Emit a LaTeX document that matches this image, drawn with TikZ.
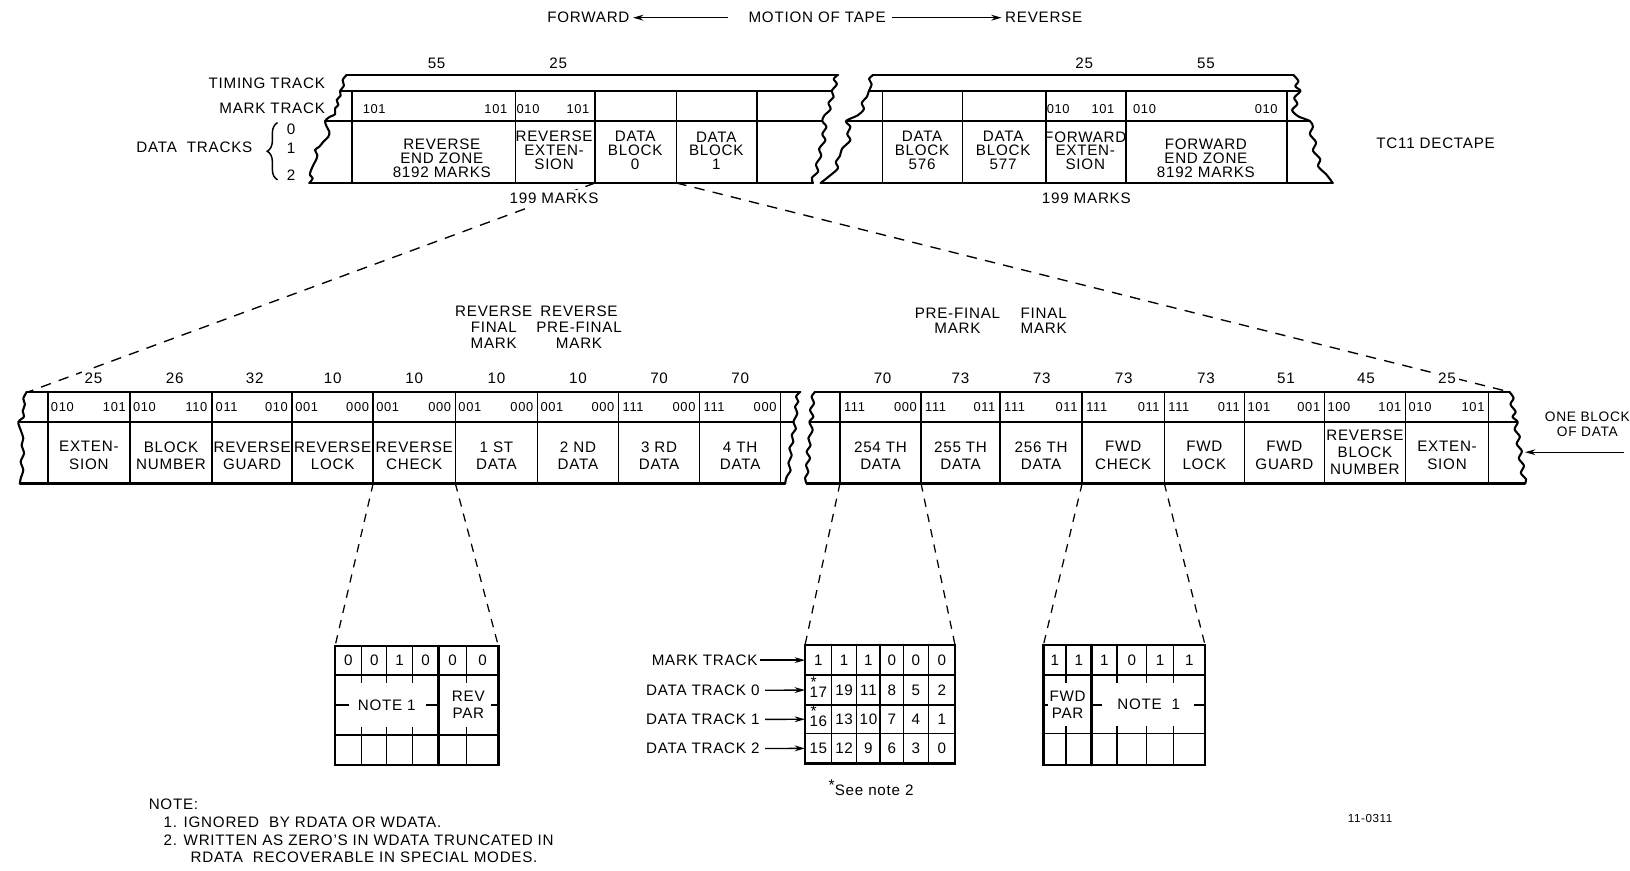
\documentclass[tikz,border=0pt]{standalone}
\usepackage{fontspec}
\setmainfont{Liberation Sans}[LetterSpace=5.0]
\usetikzlibrary{arrows.meta,decorations.pathreplacing,calc}
\begin{document}
\begin{tikzpicture}[x=0.5pt,y=-0.5pt,
  lbl/.style={font=\fontsize{7.3}{8.2}\selectfont, align=center, inner sep=0pt},
  toplbl/.style={font=\fontsize{7.3}{6.7}\selectfont, align=center, inner sep=0pt},
  mk/.style={font=\fontsize{6.2}{7}\selectfont, inner sep=0pt},
  tiny/.style={font=\fontsize{5.6}{6}\selectfont, inner sep=0pt},
  bord/.style={line width=1.25pt, line cap=round},
  thin/.style={line width=0.7pt},
  tear/.style={line width=1pt, line join=round, line cap=round},
  dshl/.style={line width=0.65pt, dash pattern=on 5pt off 4pt},
  dshs/.style={line width=0.6pt, dash pattern=on 4pt off 3.5pt},
  arr/.style={line width=0.65pt, -{Stealth[length=5pt,width=2.8pt]}},
  wbg/.style={fill=white, inner sep=1.5pt},
]
\useasboundingbox (0,0) rectangle (1568,837);

% ---------------- title
\node[lbl] (fwd) at (566,17) {FORWARD};
\node[lbl] (mot) at (786,17) {MOTION OF TAPE};
\node[lbl] (rev) at (1004,17) {REVERSE};
\draw[arr] ($(mot.west)+(-19,0)$) -- ($(fwd.east)+(3,0)$);
\draw[arr] ($(mot.east)+(6,0)$) -- ($(rev.west)+(-3,0)$);

% ---------------- expansion dashed lines
\coordinate (tA) at (572.5,176);
\coordinate (tB) at (650.6,176);
\coordinate (mA) at (27,377);
\coordinate (mB) at (1452,377);
\draw[dshl] (tA) -- (mA);
\draw[dshl] (tB) -- (mB);

% ---------------- top left tape
\draw[tear] plot[smooth, tension=0.5] coordinates {(333.5,72) (329.6,77) (330.9,82.4) (327.1,87.5) (327.7,92) (323.9,96.2) (325.5,101) (322.3,104.2) (322.3,110) (317.5,112.2) (312.7,116.4) (314.3,121.9) (316.8,126.7) (315.9,131.5) (311.1,136.3) (307.2,141.1) (303,144.3) (305.3,149.1) (304,153.9) (301.4,158.7) (298.9,164.5) (298.2,168.4) (300.8,171.6) (297.6,176)};
\draw[tear] plot[smooth, tension=0.5] coordinates {(806,72) (802,76) (805,81) (800,87.5) (802,93) (797,99) (799,105) (793,111) (791,116.4) (795,122) (791,129) (794,135) (788,143) (790,150) (785,158) (787,165) (781,171) (782,176)};
\draw[bord] (333.5,72) -- (806,72);
\draw[thin] (327.1,87.5) -- (800,87.5);
\draw[thin] (312.7,116.4) -- (791,116.4);
\draw[bord] (297.6,176) -- (782,176);
\foreach \x in {338.4,496,572.5,650.6,728.3} \draw[thin] (\x,87.5) -- (\x,176);

\node[lbl, anchor=east] (tim) at (313,80) {TIMING TRACK};
\node[lbl, anchor=east] (mrk) at (313,104) {MARK TRACK};
\node[lbl] (dtr) at (187,142) {DATA\ \ TRACKS};
\draw[thin, decorate, decoration={brace, amplitude=5pt}] (267,173) -- (267,118);
\node[lbl] (d0) at (280,124) {0};
\node[lbl] (d1) at (280,143) {1};
\node[lbl] (d2) at (280,169) {2};
\node[lbl] (n55a) at (420,61) {55};
\node[lbl] (n25a) at (537,61) {25};
\node[mk] (tm1) at (360,105) {101};
\node[mk] (tm2) at (477,105) {101};
\node[mk] (tm3) at (508,105) {010};
\node[mk] (tm4) at (556,105) {101};
\node[toplbl] (tl1) at (425,152) {REVERSE\\END ZONE\\8192 MARKS};
\node[toplbl] (tl2) at (533,144.5) {REVERSE\\EXTEN-\\SION};
\node[toplbl] (tl3) at (611,145) {DATA\\BLOCK\\0};
\node[toplbl] (tl4) at (689,145) {DATA\\BLOCK\\1};
\node[lbl, wbg] (m199a) at (533,191) {199 MARKS};

% ---------------- top right tape
\draw[tear] plot[smooth, tension=0.5] coordinates {(840,72) (836,76) (838.5,81) (835.8,87.5) (834,93) (829,99) (831,105) (825,111) (813.8,116.4) (818,122) (815,129) (818,135) (810,143) (808,150) (804,156) (806,162) (797,170) (789.5,176)};
\draw[tear] plot[smooth, tension=0.5] coordinates {(1244,72) (1249,78) (1246,83) (1251,87.5) (1245,94) (1248,100) (1243,106) (1249,112) (1260,116.4) (1263,122) (1260,129) (1266,137) (1263,145) (1270,153) (1268,160) (1276,168) (1282,176)};
\draw[bord] (840,72) -- (1244,72);
\draw[thin] (835.8,87.5) -- (1251,87.5);
\draw[thin] (813.8,116.4) -- (1260,116.4);
\draw[bord] (789.5,176) -- (1282,176);
\foreach \x in {849,926,1006,1083,1238} \draw[thin] (\x,87.5) -- (\x,176);
\node[lbl] (n25b) at (1043,61) {25};
\node[lbl] (n55b) at (1160,61) {55};
\node[mk] (rm1) at (1018,105) {010};
\node[mk] (rm2) at (1061,105) {101};
\node[mk] (rm3) at (1101,105) {010};
\node[mk] (rm4) at (1218,105) {010};
\node[toplbl] (rl1) at (887,145) {DATA\\BLOCK\\576};
\node[toplbl] (rl2) at (965,145) {DATA\\BLOCK\\577};
\node[toplbl] (rl3) at (1044,145) {FORWARD\\EXTEN-\\SION};
\node[toplbl] (rl4) at (1160,152) {FORWARD\\END ZONE\\8192 MARKS};
\node[lbl] (m199b) at (1045,191) {199 MARKS};
\node[lbl] (tc11) at (1381,138) {TC11 DECTAPE};

% ---------------- middle left tape
\draw[tear] plot[smooth, tension=0.5] coordinates {(25.7,377) (22.4,383.5) (24,389) (21.8,395.5) (23.1,400.8) (17.6,406) (19.9,413.7) (22.4,421.7) (20.8,428.1) (23.1,436.1) (19.9,444.1) (22.4,452.2) (19.9,460.2) (19.2,465)};
\draw[tear] plot[smooth, tension=0.5] coordinates {(769.6,377) (765.7,381.6) (768,386.4) (764.8,391.2) (767,397.6) (763.2,406) (765.7,412.1) (761.6,418.5) (763.2,424.9) (759.3,431.3) (761.6,437.7) (758.4,445.7) (760.6,452.2) (756.8,458.6) (755.2,465)};
\draw[bord] (25.7,377) -- (769.6,377);
\draw[thin] (17.6,406) -- (763.2,406);
\draw[bord] (19.2,465) -- (755.2,465);
\foreach \x in {46,125,204,281,359,438,517,595,673,751} \draw[thin] (\x,377) -- (\x,465);
\foreach \x/\n [count=\i] in {90/25,168/26,245/32,320/10,398.5/10,477.5/10,556/10,634/70,712/70}
  \node[lbl, wbg] (mln\i) at (\x,364) {\n};
\foreach \a/\b/\l/\r [count=\i] in {46/125/010/101,125/204/010/110,204/281/011/010,281/359/001/000,359/438/001/000,438/517/001/000,517/595/001/000,595/673/111/000,673/751/111/000}
  {\node[mk] (mlL\i) at (\a+14,392) {\l};
   \node[mk] (mlR\i) at (\b-15,392) {\r};}
\foreach \x/\t [count=\i] in {85.5/{EXTEN-\\SION},164.5/{BLOCK\\NUMBER},242.5/{REVERSE\\GUARD},320/{REVERSE\\LOCK},398.5/{REVERSE\\CHECK},477.5/{1 ST\\DATA},556/{2 ND\\DATA},634/{3 RD\\DATA},712/{4 TH\\DATA}}
  \node[lbl] (mlt\i) at (\x,438) {\t};
\node[lbl, font=\fontsize{7.3}{7.7}\selectfont] (rfm) at (475,315) {REVERSE\\FINAL\\MARK};
\node[lbl, font=\fontsize{7.3}{7.7}\selectfont] (rpm) at (557,315) {REVERSE\\PRE-FINAL\\MARK};

% ---------------- middle right tape
\draw[tear] plot[smooth, tension=0.5] coordinates {(784,377) (780.8,381.6) (783,388) (779.2,394.4) (782.4,400.8) (778.6,406) (781.8,413.7) (777.6,421.7) (779.8,428.1) (776,434.5) (779.2,440.9) (775.4,447.3) (777.6,453.7) (774.4,460) (776,465)};
\draw[tear] plot[smooth, tension=0.5] coordinates {(1452,377) (1456,383) (1453,389) (1458,396) (1455,401) (1460,406) (1457,413) (1462,420) (1459,427) (1464,434) (1461,441) (1466,448) (1463,455) (1468,461) (1467,465)};
\draw[bord] (784,377) -- (1452,377);
\draw[thin] (778.6,406) -- (1460,406);
\draw[bord] (776,465) -- (1467,465);
\foreach \x in {808,886,962,1041,1120,1197,1274,1352,1432} \draw[thin] (\x,377) -- (\x,465);
\foreach \x/\n [count=\i] in {849/70,924/73,1002/73,1081/73,1160/73,1237/51,1314/45,1392/25}
  \node[lbl, wbg] (mrn\i) at (\x,364) {\n};
\foreach \a/\b/\l/\r [count=\i] in {808/886/111/000,886/962/111/011,962/1041/111/011,1041/1120/111/011,1120/1197/111/011,1197/1274/101/001,1274/1352/100/101,1352/1432/010/101}
  {\node[mk] (mrL\i) at (\a+14,392) {\l};
   \node[mk] (mrR\i) at (\b-15,392) {\r};}
\foreach \x/\t [count=\i] in {847/{254 TH\\DATA},924/{255 TH\\DATA},1001.5/{256 TH\\DATA},1080.5/{FWD\\CHECK},1158.5/{FWD\\LOCK},1235.5/{FWD\\GUARD},1392/{EXTEN-\\SION}}
  \node[lbl] (mrt\i) at (\x,438) {\t};
\node[lbl] (rbn) at (1313,435) {REVERSE\\BLOCK\\NUMBER};
\node[lbl, font=\fontsize{7.3}{7.3}\selectfont] (pfm) at (921,308.5) {PRE-FINAL\\MARK};
\node[lbl, font=\fontsize{7.3}{7.3}\selectfont] (fm) at (1004,308.5) {FINAL\\MARK};
\node[lbl, font=\fontsize{6.6}{7.5}\selectfont] (obd) at (1527,408) {ONE BLOCK\\OF DATA};
\coordinate (obT) at (1562,435);
\coordinate (obH) at (1467,435);
\draw[arr] (obT) -- (obH);

% ---------------- bottom left box (reverse check)
\coordinate (lA) at (359,465);
\coordinate (lB) at (438,465);
\coordinate (lC) at (322.3,621.5);
\coordinate (lD) at (479.4,621.5);
\draw[dshs] (lA) -- (lC);
\draw[dshs] (lB) -- (lD);
\draw[bord] (322.3,621.5) rectangle (479.4,736);
\draw[thin] (322.3,649.4) -- (479.4,649.4) (322.3,707) -- (479.4,707);
\draw[bord] (421.7,621.5) -- (421.7,736);
\foreach \x in {348,372,397,449} \draw[thin] (\x,621.5) -- (\x,657) (\x,736) -- (\x,699);
\draw[thin] (322.3,678) -- (336,678) (410,678) -- (421.7,678) (472,678) -- (479.4,678);
\foreach \x/\v [count=\i] in {335.2/0,360/0,384.5/1,409.4/0,435.4/0,464.2/0}
  \node[lbl] (lbv\i) at (\x,635.5) {\v};
\node[lbl] (lbn) at (372,678) {NOTE 1};
\node[lbl, font=\fontsize{7.3}{7.8}\selectfont] (lbp) at (450.5,678) {REV\\PAR};

% ---------------- bottom middle box (254th data)
\coordinate (cA) at (808,465);
\coordinate (cB) at (886,465);
\coordinate (cC) at (774.4,620.5);
\coordinate (cD) at (918.7,620.5);
\draw[dshs] (cA) -- (cC);
\draw[dshs] (cB) -- (cD);
\draw[bord] (774.4,620.5) rectangle (918.7,734.3);
\foreach \y in {649.4,678.2,705.5} \draw[thin] (774.4,\y) -- (918.7,\y);
\foreach \x in {800,824.1,846.6,869,893} \draw[thin] (\x,620.5) -- (\x,734.3);
\foreach \x/\v [count=\i] in {787.2/1,812/1,835.4/1,857.8/0,881/0,905.9/0}
  \node[lbl] (cr1\i) at (\x,635) {\v};
\node[lbl] (cr21) at (787.2,666) {\rlap{\hspace{0.5pt}\raisebox{4.8pt}[0pt][0pt]{\fontsize{7.5}{7.5}\selectfont *}}17};
\foreach \x/\v [count=\i from 2] in {812/19,835.4/11,857.8/8,881/5,905.9/2}
  \node[lbl] (cr2\i) at (\x,664) {\v};
\node[lbl] (cr31) at (787.2,694) {\rlap{\hspace{0.5pt}\raisebox{4.8pt}[0pt][0pt]{\fontsize{7.5}{7.5}\selectfont *}}16};
\foreach \x/\v [count=\i from 2] in {812/13,835.4/10,857.8/7,881/4,905.9/1}
  \node[lbl] (cr3\i) at (\x,692) {\v};
\foreach \x/\v [count=\i] in {787.2/15,812/12,835.4/9,857.8/6,881/3,905.9/0}
  \node[lbl] (cr4\i) at (\x,720) {\v};
\coordinate (cE1) at (774.4,635);
\coordinate (cE2) at (774.4,663.8);
\coordinate (cE3) at (774.4,691.9);
\coordinate (cE4) at (774.4,719.9);
\node[lbl, anchor=east] (lmt) at (729,635) {MARK TRACK};
\node[lbl, anchor=east] (ld0) at (731,664) {DATA TRACK 0};
\node[lbl, anchor=east] (ld1) at (731,692) {DATA TRACK 1};
\node[lbl, anchor=east] (ld2) at (731,720) {DATA TRACK 2};
\draw[arr] ($(lmt.east)+(2,0)$) -- (cE1);
\draw[arr] ($(ld0.east)+(5,0)$) -- (cE2);
\draw[arr] ($(ld1.east)+(5,0)$) -- (cE3);
\draw[arr] ($(ld2.east)+(5,0)$) -- (cE4);
\node[lbl] (see) at (838,758) {\raisebox{2.5pt}{\fontsize{7.5}{7.5}\selectfont *}See note 2};

% ---------------- bottom right box (fwd check)
\coordinate (rA) at (1041,465);
\coordinate (rB) at (1120,465);
\coordinate (rC) at (1003.7,620.5);
\coordinate (rD) at (1159.2,620.5);
\draw[dshs] (rA) -- (rC);
\draw[dshs] (rB) -- (rD);
\draw[bord] (1003.7,620.5) rectangle (1159.2,736);
\draw[thin] (1003.7,649.4) -- (1159.2,649.4) (1003.7,705.5) -- (1159.2,705.5);
\draw[bord] (1050.2,620.5) -- (1050.2,736);
\foreach \x in {1025.5,1074.3,1103.1,1128.7} \draw[thin] (\x,620.5) -- (\x,657) (\x,736) -- (\x,698);
\draw[thin] (1003.7,678) -- (1008,678) (1050.2,678) -- (1060,678) (1149,678) -- (1159.2,678);
\foreach \x/\v [count=\i] in {1014.6/1,1037.9/1,1062.3/1,1088.7/0,1115.9/1,1144/1}
  \node[lbl] (rbv\i) at (\x,635) {\v};
\node[lbl, font=\fontsize{7.3}{7.8}\selectfont] (rbp) at (1027,678) {FWD\\PAR};
\node[lbl] (rbn1) at (1105,677) {NOTE\ \ 1};

% ---------------- notes
\node[lbl, anchor=west] (note) at (142.7,774) {NOTE:};
\node[lbl, anchor=west] (nt1) at (157,790.5) {1. IGNORED\ \ BY RDATA OR WDATA.};
\node[lbl, anchor=west] (nt2) at (157,808) {2. WRITTEN AS ZERO'S IN WDATA TRUNCATED IN};
\node[lbl, anchor=west] (nt3) at (183,825) {RDATA\ \ RECOVERABLE IN SPECIAL MODES.};
\node[tiny] (fig) at (1318,787) {11-0311};
\end{tikzpicture}
\end{document}
